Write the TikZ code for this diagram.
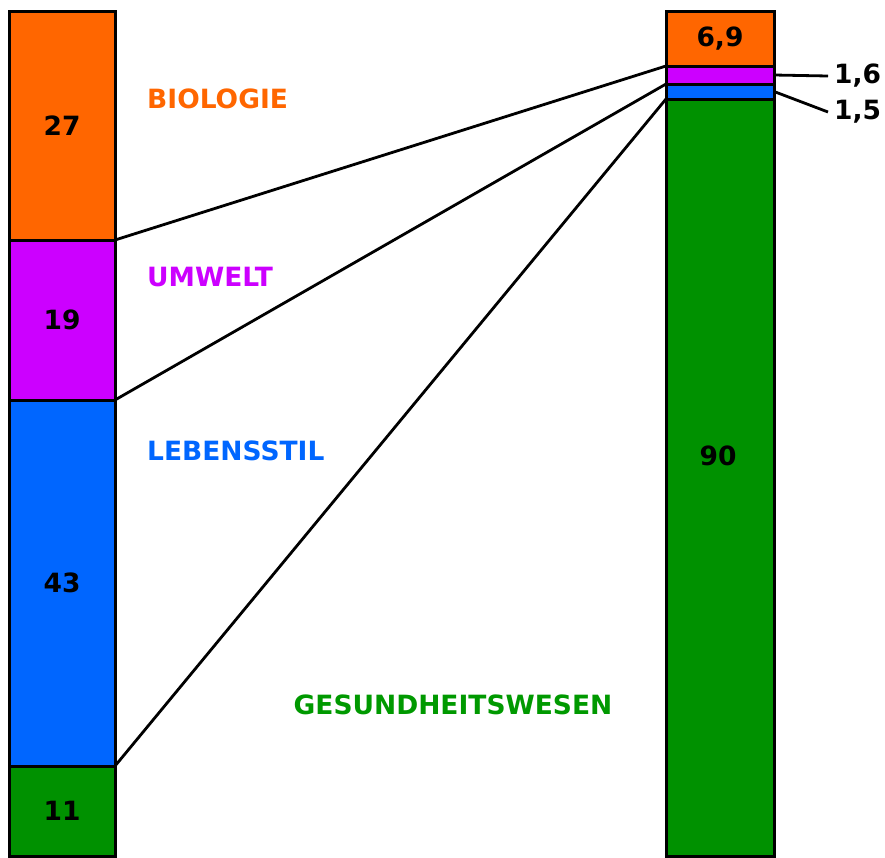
\documentclass[tikz,border=0pt]{standalone}
\usepackage{fontspec}
\setmainfont{DejaVu Sans}
\usetikzlibrary{positioning}

\definecolor{orangeseg}{HTML}{FF6600}
\definecolor{purpleseg}{HTML}{CC00FF}
\definecolor{blueseg}{HTML}{0066FF}
\definecolor{greenseg}{HTML}{009100}
\definecolor{greentext}{HTML}{009900}

\begin{document}
\begin{tikzpicture}[
  x=1pt, y=-1pt,
  every node/.style={font=\fontsize{26.5}{32}\selectfont\bfseries},
  lseg/.style={rectangle, draw, line width=3pt, inner sep=0pt, outer sep=0pt, minimum width=106pt},
  rseg/.style={rectangle, draw, line width=3pt, inner sep=0pt, outer sep=0pt, minimum width=108pt},
  cat/.style={anchor=west, inner sep=0pt},
  val/.style={anchor=west, inner sep=0pt, inner xsep=6pt},
  link/.style={line width=2.8pt},
]
\useasboundingbox (0,0) rectangle (885,857);

% Left bar
\node[lseg, fill=orangeseg, minimum height=229pt, anchor=north] (lbio) at (62,11) {27};
\node[lseg, fill=purpleseg, minimum height=160pt, below=0pt of lbio] (lumw) {19};
\node[lseg, fill=blueseg, minimum height=366pt, below=0pt of lumw] (lleb) {43};
\node[lseg, fill=greenseg, minimum height=90pt, below=0pt of lleb] (lges) {11};

% Right bar
\node[rseg, fill=orangeseg, minimum height=55pt, anchor=north] (rbio) at (720,11) {6,9};
\node[rseg, fill=purpleseg, minimum height=18pt, below=0pt of rbio] (rumw) {};
\node[rseg, fill=blueseg, minimum height=15pt, below=0pt of rumw] (rleb) {};
\node[rseg, fill=greenseg, minimum height=757pt, below=0pt of rleb] (rges) {};
\node (v90) at (718,456) {90};

% Labels
\node[cat, text=orangeseg] (tbio) at (147,99) {BIOLOGIE};
\node[cat, text=purpleseg] (tumw) at (147,277) {UMWELT};
\node[cat, text=blueseg] (tleb) at (147,451) {LEBENSSTIL};
\node[text=greentext] (tges) at (453,705) {GESUNDHEITSWESEN};

\node[val] (v16) at (828,76) {1,6};
\node[val] (v15) at (828,112) {1,5};

% Connections
\draw[link] (lbio.south east) -- (rbio.south west);
\draw[link] (lumw.south east) -- (rumw.south west);
\draw[link] (lleb.south east) -- (rleb.south west);
\draw[link] (rumw.east) -- (v16.west);
\draw[link] (rleb.east) -- (v15.west);

\end{tikzpicture}
\end{document}
